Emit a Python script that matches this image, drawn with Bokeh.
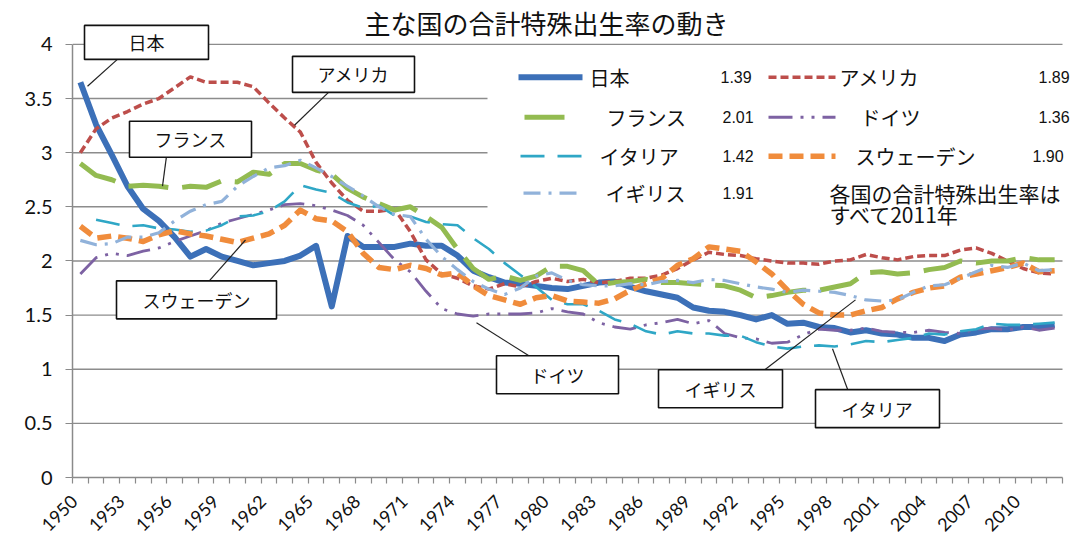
import math
from bokeh.plotting import figure
from bokeh.models import Range1d, FixedTicker, NumeralTickFormatter, Label
from bokeh.embed import file_html
from bokeh.resources import INLINE

nan = float("nan")

# ---------------- data ----------------
years = list(range(1950, 2013))
tick_years = list(range(1950, 2011, 3))
y_ticks = [0, 0.5, 1, 1.5, 2, 2.5, 3, 3.5, 4]

japan = [3.65, 3.26, 2.98, 2.69, 2.48, 2.37, 2.22, 2.04, 2.11, 2.04,
         2.00, 1.96, 1.98, 2.00, 2.05, 2.14, 1.58, 2.23, 2.13, 2.13,
         2.13, 2.16, 2.14, 2.14, 2.05, 1.91, 1.85, 1.80, 1.79, 1.77,
         1.75, 1.74, 1.77, 1.80, 1.81, 1.76, 1.72, 1.69, 1.66, 1.57,
         1.54, 1.53, 1.50, 1.46, 1.50, 1.42, 1.43, 1.39, 1.38, 1.34,
         1.36, 1.33, 1.32, 1.29, 1.29, 1.26, 1.32, 1.34, 1.37, 1.37,
         1.39, 1.39, 1.41]
usa = [3.00, 3.22, 3.32, 3.38, 3.45, 3.50, 3.60, 3.70, 3.65, 3.65,
       3.65, 3.61, 3.46, 3.32, 3.19, 2.91, 2.72, 2.56, 2.46, 2.46,
       2.48, 2.27, 2.01, 1.88, 1.84, 1.77, 1.74, 1.79, 1.76, 1.81,
       1.84, 1.81, 1.83, 1.80, 1.81, 1.84, 1.84, 1.87, 1.93, 2.01,
       2.08, 2.06, 2.05, 2.02, 2.00, 1.98, 1.98, 1.97, 2.00, 2.01,
       2.06, 2.03, 2.01, 2.04, 2.05, 2.05, 2.10, 2.12, 2.07, 2.00,
       1.93, 1.89, 1.88]
france = [2.90, 2.79, 2.75, 2.69, 2.70, 2.69, 2.67, 2.69, 2.68, 2.74,
          2.73, 2.82, 2.80, 2.90, 2.90, 2.84, 2.80, 2.67, 2.59, 2.53,
          2.47, 2.50, 2.41, 2.31, 2.11, 1.93, 1.83, 1.86, 1.82, 1.86,
          1.95, 1.95, 1.91, 1.78, 1.80, 1.81, 1.83, 1.80, 1.80, 1.79,
          1.78, 1.77, 1.73, 1.66, 1.68, 1.71, 1.73, 1.73, 1.76, 1.79,
          1.89, 1.90, 1.88, 1.89, 1.92, 1.94, 2.00, 1.98, 2.00, 2.00,
          2.03, 2.01, 2.01]
germany = [1.88, 2.03, 2.07, 2.05, 2.09, 2.12, 2.18, 2.23, 2.28, 2.35,
           2.39, 2.43, 2.47, 2.52, 2.53, 2.51, 2.47, 2.42, 2.33, 2.17,
           2.01, 1.90, 1.72, 1.56, 1.51, 1.49, 1.51, 1.51, 1.51, 1.52,
           1.56, 1.53, 1.51, 1.43, 1.39, 1.37, 1.41, 1.43, 1.46, 1.42,
           1.45, 1.33, 1.29, 1.28, 1.24, 1.25, 1.32, 1.37, 1.36, 1.36,
           1.38, 1.35, 1.34, 1.34, 1.36, 1.34, 1.33, 1.37, 1.38, 1.36,
           1.39, 1.36, 1.38]
italy = [nan, 2.38, 2.35, 2.32, 2.33, 2.30, 2.29, 2.27, 2.28, 2.33,
         2.41, 2.42, 2.46, 2.55, 2.70, 2.66, 2.63, 2.54, 2.49, 2.51,
         2.42, 2.41, 2.36, 2.34, 2.33, 2.21, 2.11, 1.98, 1.87, 1.76,
         1.64, 1.60, 1.60, 1.54, 1.46, 1.42, 1.35, 1.32, 1.35, 1.33,
         1.33, 1.31, 1.31, 1.25, 1.21, 1.19, 1.21, 1.22, 1.21, 1.23,
         1.26, 1.25, 1.27, 1.29, 1.33, 1.32, 1.35, 1.37, 1.42, 1.41,
         1.41, 1.42, 1.43]
sweden = [2.32, 2.21, 2.23, 2.21, 2.18, 2.24, 2.28, 2.25, 2.23, 2.20,
          2.17, 2.21, 2.25, 2.33, 2.47, 2.39, 2.37, 2.27, 2.07, 1.94,
          1.92, 1.96, 1.93, 1.87, 1.89, 1.77, 1.68, 1.64, 1.60, 1.66,
          1.68, 1.63, 1.62, 1.61, 1.65, 1.73, 1.79, 1.84, 1.96, 2.02,
          2.13, 2.11, 2.09, 1.99, 1.88, 1.73, 1.60, 1.52, 1.50, 1.50,
          1.54, 1.57, 1.65, 1.71, 1.75, 1.77, 1.85, 1.88, 1.91, 1.94,
          1.98, 1.90, 1.91]
uk = [2.19, 2.15, 2.16, 2.22, 2.22, 2.26, 2.37, 2.46, 2.52, 2.55,
      2.69, 2.78, 2.86, 2.88, 2.93, 2.86, 2.78, 2.69, 2.60, 2.50,
      2.43, 2.41, 2.20, 2.04, 1.92, 1.81, 1.74, 1.69, 1.75, 1.86,
      1.89, 1.82, 1.78, 1.77, 1.77, 1.79, 1.78, 1.81, 1.82, 1.80,
      1.83, 1.82, 1.79, 1.76, 1.74, 1.71, 1.73, 1.72, 1.71, 1.68,
      1.64, 1.63, 1.64, 1.71, 1.77, 1.78, 1.84, 1.90, 1.96, 1.94,
      1.98, 1.91, 1.92]

names = ["日本", "アメリカ", "フランス", "ドイツ", "イタリア", "スウェーデン", "イギリス"]
latest = ["1.39", "1.89", "2.01", "1.36", "1.42", "1.90", "1.91"]
series = [japan, usa, france, germany, italy, sweden, uk]

title_text = "主な国の合計特殊出生率の動き"
note_lines = ["各国の合計特殊出生率は", "すべて2011年"]

# ---------------- styles ----------------
styles = [
    dict(color="#3C70B8", width=6.0, dash="solid"),
    dict(color="#BD4E4B", width=3.5, dash="8 4"),
    dict(color="#93BB51", width=5.0, dash="40 14"),
    dict(color="#7D62A3", width=2.8, dash="24 8 3 8 3 8"),
    dict(color="#2FA7C6", width=2.6, dash="24 13"),
    dict(color="#F08C3C", width=5.5, dash="14 7"),
    dict(color="#91B2DA", width=3.2, dash="17 8 3 8"),
]

JP = "Noto Sans CJK JP"
W, H = 1086, 546
FL, FR, FB = 72, 1062, 478          # plot area in page pixels
PX_PER_YEAR = (FR - FL) / 63.0
PX_PER_UNIT = (FB - 44) / 4.0

# page-pixel -> data helpers (layout only)
def dx(px):
    return 1949.5 + (px - FL) / PX_PER_YEAR
def dy(py):
    return (FB - py) / PX_PER_UNIT

p = figure(width=W, height=H, output_backend="svg", toolbar_location=None,
           x_range=Range1d(1949.5, dx(W)), y_range=Range1d(0, dy(0)),
           min_border_left=FL, min_border_right=0, min_border_top=0,
           min_border_bottom=H - FB)
p.outline_line_color = None
p.background_fill_color = "white"
p.border_fill_color = "white"

# axes
p.xaxis.bounds = (1949.5, 2012.5)
p.xaxis.ticker = FixedTicker(ticks=tick_years,
                             minor_ticks=[1949.5 + i for i in range(64)])
p.xaxis.major_tick_line_color = None
p.xaxis.major_tick_out = 0
p.xaxis.minor_tick_line_color = "#8A8A8A"
p.xaxis.minor_tick_line_width = 1.2
p.xaxis.minor_tick_out = 6
p.xaxis.minor_tick_in = 0
p.xaxis.major_label_orientation = math.pi / 4
p.xaxis.major_label_overrides = {y: str(y) + "\u00a0" * 2 for y in tick_years}
p.xaxis.major_label_text_font = "Lato"
p.xaxis.major_label_text_font_size = "18px"
p.xaxis.major_label_text_color = "#111111"
p.xaxis.major_label_standoff = 8
p.xaxis.axis_line_color = "#8A8A8A"
p.xaxis.axis_line_width = 1.5

p.yaxis.bounds = (0, 4)
p.yaxis.ticker = FixedTicker(ticks=y_ticks)
p.yaxis.formatter = NumeralTickFormatter(format="0.[0]")
p.yaxis.major_tick_line_color = "#8A8A8A"
p.yaxis.major_tick_line_width = 1.2
p.yaxis.major_tick_out = 7
p.yaxis.major_tick_in = 0
p.yaxis.minor_tick_line_color = None
p.yaxis.major_label_text_font = "Lato"
p.yaxis.major_label_text_font_size = "20px"
p.yaxis.major_label_text_color = "#111111"
p.yaxis.major_label_standoff = 13
p.yaxis.axis_line_color = "#8A8A8A"
p.yaxis.axis_line_width = 1.5

p.xgrid.grid_line_color = None
p.ygrid.grid_line_color = None

# horizontal gridlines limited to the plot area
gy = [t for t in y_ticks if t > 0]
p.segment(x0=[1949.5] * len(gy), x1=[2012.5] * len(gy), y0=gy, y1=gy,
          line_color="#8C8C8C", line_width=1.4)

# series lines
for vals, st in zip(series, styles):
    p.line(years, vals, line_color=st["color"], line_width=st["width"],
           line_dash=st["dash"], line_join="round")

# white legend panel (covers gridlines)
p.quad(left=[dx(487)], right=[dx(W)], bottom=[dy(232)], top=[dy(50)],
       fill_color="white", line_color=None)

# legend samples + texts
rows = [77, 117, 156, 193]
line_span = [(518, 582), (768, 835), (524, 577), (768, 835),
             (520, 584), (768, 835), (523, 577)]
text_x = [589, 839, 606, 860, 599, 855, 605]
val_x = [720, 1038, 722, 1038, 722, 1032, 722]
for i, (nm, st) in enumerate(zip(names, styles)):
    r = i // 2
    yy = dy(rows[r])
    x0, x1 = line_span[i]
    p.line([dx(x0), dx(x1)], [yy, yy], line_color=st["color"],
           line_width=st["width"], line_dash=st["dash"])
    p.add_layout(Label(x=dx(text_x[i]), y=yy, text=nm, text_font=JP,
                       text_font_size="20px", text_baseline="middle",
                       text_align="left", text_color="#111111"))
    p.add_layout(Label(x=dx(val_x[i]), y=yy, text=latest[i],
                       text_font="Liberation Sans", text_font_size="16px",
                       text_baseline="middle", text_align="left",
                       text_color="#111111"))

p.add_layout(Label(x=dx(829), y=dy(193), text=note_lines[0], text_font=JP,
                   text_font_size="21px", text_baseline="middle",
                   text_color="#111111"))
p.add_layout(Label(x=dx(829), y=dy(214), text=note_lines[1], text_font=JP,
                   text_font_size="21px", text_baseline="middle",
                   text_color="#111111"))

# title
p.add_layout(Label(x=dx(546), y=dy(22), text=title_text, text_font=JP,
                   text_font_size="26px", text_align="center",
                   text_baseline="middle", text_color="#111111"))

# callouts: (text, center_x, center_y, box_w, box_h, leader)
callouts = [
    ("日本", 146, 42, 124, 31, (118, 58, 87, 86)),
    ("アメリカ", 353, 74, 123, 32, (328, 92, 294, 125)),
    ("フランス", 190, 139, 122, 33, (166, 156, 162, 186)),
    ("スウェーデン", 196, 300, 161, 35, (207, 283, 245, 240)),
    ("ドイツ", 557, 375, 123, 35, (530, 357, 476, 323)),
    ("イギリス", 720, 389, 125, 35, (763, 371, 855, 300)),
    ("イタリア", 877, 409, 125, 35, (848, 392, 832, 349)),
]
fs = 18
p.segment(x0=[dx(c[5][0]) for c in callouts], y0=[dy(c[5][1]) for c in callouts],
          x1=[dx(c[5][2]) for c in callouts], y1=[dy(c[5][3]) for c in callouts],
          line_color="#222222", line_width=1.2)
for txt, cx, cy, bw, bh, _ in callouts:
    tw = fs * len(txt)
    padx = max(2, int((bw - tw) / 2))
    pady = max(2, int((bh - fs * 1.2) / 2))
    p.add_layout(Label(x=dx(cx), y=dy(cy), text=txt, text_font=JP,
                       text_font_size=f"{fs}px", text_align="center",
                       text_baseline="middle", text_color="#111111",
                       background_fill_color="white",
                       border_line_color="#111111", border_line_width=1.6,
                       padding=dict(left=padx, right=padx, top=pady, bottom=pady)))

open("out.html", "w").write(file_html(p, INLINE))
